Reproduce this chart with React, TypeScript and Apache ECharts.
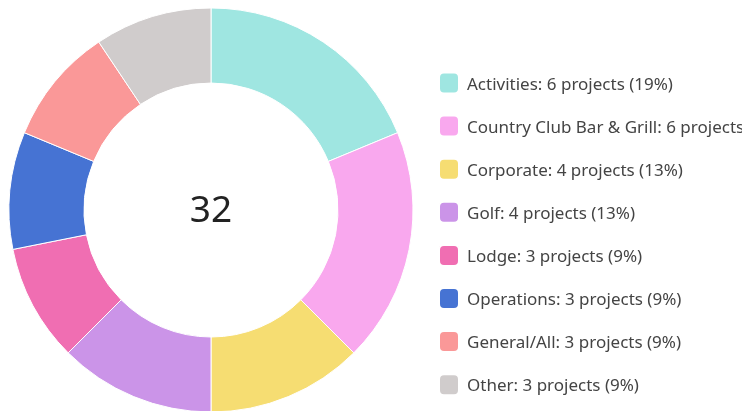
import React, { useEffect, useRef } from "react";
import * as echarts from "echarts";

const categories = ["Activities", "Country Club Bar & Grill", "Corporate", "Golf", "Lodge", "Operations", "General/All", "Other"];
const projectCounts = [6, 6, 4, 4, 3, 3, 3, 3];
const sliceColors = ["#9fe6e1", "#f9a8ee", "#f6dd72", "#cb94e8", "#f06eb2", "#4673d3", "#fa9898", "#d0cccc"];

export default function App() {
  const ref = useRef<HTMLDivElement>(null);
  useEffect(() => {
    if (!ref.current) return;
    const chart = echarts.init(ref.current, undefined, { renderer: "svg" });
    const total = projectCounts.reduce((a, b) => a + b, 0);
    const byName: Record<string, number> = {};
    categories.forEach((c, i) => (byName[c] = projectCounts[i]));
    chart.setOption({
      animation: false,
      color: sliceColors,
      legend: {
        orient: "vertical",
        left: 438,
        top: 71.5,
        height: 338,
        padding: 0,
        itemWidth: 20,
        itemHeight: 21,
        itemGap: 20.1,
        icon: "roundRect",
        textStyle: { fontFamily: "Noto Sans", fontSize: 17, color: "#444", padding: [0, 0, 0, 3] },
        formatter: (name: string) => {
          const v = byName[name];
          return `${name}: ${v} projects (${Math.round((v / total) * 100)}%)`;
        },
        data: categories,
      },
      graphic: [
        {
          type: "text",
          x: 211,
          y: 207,
          style: {
            text: String(total),
            fontFamily: "Noto Sans",
            fontSize: 37,
            fill: "#222",
            textAlign: "center",
            textVerticalAlign: "middle",
          },
        },
      ],
      series: [
        {
          type: "pie",
          center: [211, 210],
          radius: [127, 202],
          startAngle: 90,
          clockwise: true,
          label: { show: false },
          labelLine: { show: false },
          itemStyle: { borderColor: "#fff", borderWidth: 1 },
          emphasis: { disabled: true },
          data: categories.map((c, i) => ({ name: c, value: projectCounts[i] })),
        },
      ],
    });
    return () => chart.dispose();
  }, []);
  return <div ref={ref} style={{ position: "fixed", left: 0, top: 0, width: 742, height: 411 }} />;
}
